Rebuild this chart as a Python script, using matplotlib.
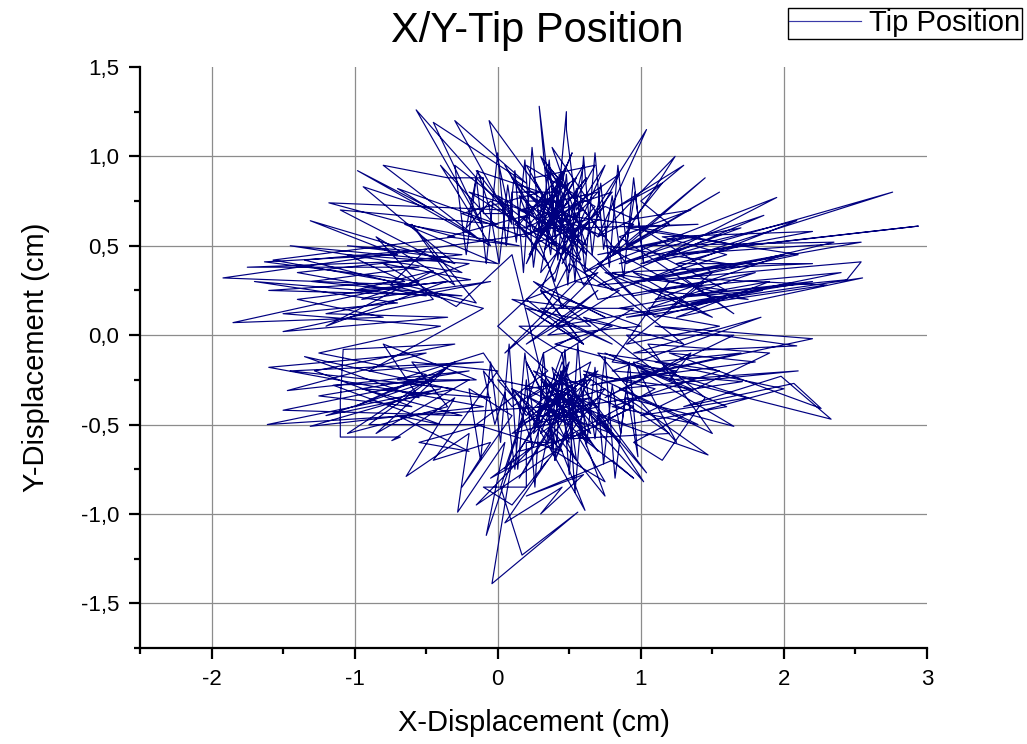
import matplotlib
matplotlib.use("Agg")
import matplotlib.pyplot as plt
from matplotlib.ticker import MultipleLocator, FuncFormatter

plt.rcParams['font.family'] = ['Liberation Sans', 'DejaVu Sans']

# tip track (cm), in several stretches
track_x = [
    0.35, 0.50, 0.22, 0.60, 0.40, 0.15, 0.55, 0.30, 0.65, 0.10,
    -1.92, -0.60, -1.57, -0.30, -1.18, 0.05, -0.57, -0.10, -0.45, 0.20,
    -0.30, 0.10, -0.06, 0.35, 0.29, 0.40, 0.48, 0.48, 0.55, 0.75,
    0.45, 1.04, 0.70, 1.24, 0.80, 1.45, 0.90, 1.55, 0.60, 1.95,
    1.10, 2.76, 1.50, 2.94, 1.20, 2.54, 1.00, 2.09, 0.85, 1.86,
    0.70, 2.54, 2.44, 1.30, 2.20, 1.05, 1.80, 0.95, 0.40, 0.62,
    0.25, 0.52, 0.35, 0.58, 0.18, 0.42, 0.30, 0.68, 0.20, 0.45,
    0.45, 0.20, 0.20, 0.00, -0.40, -0.05, -0.98, -0.45, -0.94, -0.30,
    -1.31, -0.70, -1.63, -0.55, -1.85, -0.80, -1.40, -0.36, -1.20, -0.45,
    -1.00, -0.19, -0.80, -0.29, 0.10, 0.30, 0.55, 0.20, 0.65, 0.35,
    0.50, 0.25, 0.70, 0.40, 0.15, 0.60, 0.45, 0.30, 0.75, 0.35,
    -1.61, -0.40, -1.31, -0.10, -1.60, -0.50, -1.47, -0.20, -1.25, -0.60,
    -1.28, -0.30, -1.08, -1.10, -1.10, -0.68, -0.74, -0.30, -0.64, -0.20,
    -0.28, 0.05, -0.08, 0.10, -0.04, 0.56, 0.17, 0.02, 0.20, 0.61,
    0.40, 0.75, 0.50, 1.02, 0.60, 1.04, 0.70, 1.47, 0.90, 1.65,
    1.00, 2.33, 1.98, 1.30, 2.07, 2.26, 1.20, 1.80, 0.85, 2.20,
    1.10, 2.09, 0.95, 1.84, 0.80, 1.71, 0.55, 0.30, 0.65, 0.40,
    0.20, 0.55, 0.45, 0.25, 0.70, 0.35, 0.60, 0.10, 0.50, 0.38,
    0.80, 0.28, 0.65, 0.15, 0.52, 0.52, 0.30, 0.30, 0.00, 0.45,
    -0.15, 0.35, 0.00, 0.40, 0.60, 0.25, 0.48, 0.33, 0.70, 0.15,
    0.55, 0.38, 0.62, 0.10, 0.45, 0.85, 0.50, 0.28, 0.75, 0.35,
    0.58, 1.40, 0.90, 2.10, 1.20, 2.35, 1.00, 1.60, 0.75, 1.50,
    0.95, 1.75, 1.05, 2.40, 1.35, 2.55, 1.25, 1.90, 0.85, 1.55,
    0.90, 1.45, 0.70, 0.40, 0.20, 0.52, 0.30, 0.05, 0.40, -0.20,
    0.25, -0.35, 0.15, -0.65, 0.00, -1.05, -0.25, -1.40, -0.50, -1.70,
    -0.70, -1.50, -0.40, -1.25, -0.50, -1.00, -0.35, -0.85, -0.20, -0.70,
    -0.10, 0.20, 0.45, 0.30, 0.58, 0.40, 0.65, 0.22, 0.50, 0.35,
    0.70, 0.45, 0.15, 0.55, 0.25, 0.60, 0.10, 0.48, 0.85, 0.40,
    0.95, 0.50, 1.20, 0.60, 1.35, 0.75, 1.60, 0.90, 0.42, 0.05,
    0.32, 0.55, 0.30, 0.50, 0.20, 0.62, 0.38, 0.72, 0.28, 0.55,
    0.12, 0.45, 0.80, 0.35, 0.95, 0.60, 0.25, 0.68, 0.42, 0.00,
    0.35, -0.15, 0.30, -0.25, 0.18, 0.60, 0.90, 1.30, 0.70, 1.70,
    1.00, 2.20, 1.15, 1.60, 0.80, 0.50, 0.30, 0.60, 0.20, 0.80,
    0.40, 1.10, 0.60, 1.30,
]
track_y = [
    0.60, 0.85, 0.45, 0.95, 0.30, 0.78, 0.50, 1.00, 0.65, 0.55,
    0.32, 0.28, 0.42, 0.55, 0.74, 0.70, 1.26, 0.60, 1.19, 0.85,
    1.20, 0.62, 1.20, 0.75, 1.28, 0.55, 1.25, 1.15, 0.70, 0.95,
    0.40, 1.15, 0.55, 1.00, 0.45, 0.88, 0.50, 0.80, 0.35, 0.77,
    0.42, 0.80, 0.48, 0.61, 0.45, 0.52, 0.30, 0.64, 0.40, 0.67,
    0.28, 0.41, 0.31, 0.22, 0.30, 0.15, 0.35, 0.22, 0.65, 0.88,
    0.50, 0.78, 0.92, 0.42, 0.65, 0.88, 0.35, 0.72, 0.95, 0.60,
    0.75, 0.75, 0.60, 0.60, 0.95, 0.50, 0.92, 0.70, 0.83, 0.40,
    0.64, 0.45, 0.41, 0.30, 0.07, 0.10, 0.20, 0.30, 0.05, 0.36,
    0.25, 0.31, 0.40, 0.16, 0.45, -0.20, -0.45, -0.30, -0.25, -0.60,
    -0.15, -0.50, -0.40, -0.30, -0.65, -0.55, -0.20, -0.75, -0.30, -0.40,
    -0.50, -0.30, -0.51, -0.40, -0.18, -0.10, -0.31, -0.20, -0.34, -0.40,
    -0.20, -0.05, -0.08, -0.37, -0.57, -0.57, -0.59, -0.35, -0.79, -0.55,
    -0.99, -0.60, -1.12, -0.70, -1.39, -0.99, -1.23, -0.85, -0.40, -0.98,
    -0.55, -0.90, -0.35, -0.82, -0.30, -0.77, -0.45, -0.67, -0.35, -0.51,
    -0.20, -0.47, -0.23, -0.40, -0.27, -0.41, -0.10, -0.15, -0.25, -0.02,
    0.05, -0.06, -0.10, 0.10, -0.20, -0.26, -0.40, -0.25, -0.60, -0.45,
    -0.15, -0.70, -0.10, -0.55, -0.20, -0.35, -0.50, -0.30, -0.60, -0.18,
    -0.55, -0.40, -0.35, -0.50, -0.28, -0.45, -0.45, -0.30, -0.25, -0.65,
    -0.50, -0.20, 0.05, 0.35, 0.75, 0.58, 0.95, 0.48, 0.80, 0.70,
    0.55, 0.82, 0.45, 0.88, 0.68, 0.90, 0.35, 0.70, 0.55, 0.95,
    0.60, 0.62, 0.60, 0.45, 0.30, 0.52, 0.50, 0.25, 0.35, 0.10,
    0.35, 0.20, 0.25, 0.35, 0.18, 0.32, 0.10, 0.30, 0.15, 0.05,
    -0.05, 0.30, 0.20, 0.70, 0.40, 1.02, 0.60, 0.95, 0.50, 0.80,
    0.68, 0.55, 0.50, 0.62, 0.40, 0.50, 0.45, 0.35, 0.22, 0.30,
    0.18, 0.12, 0.05, -0.10, -0.22, -0.40, -0.18, -0.55, -0.25, -0.25,
    -0.10, -0.45, -0.25, -0.55, -0.38, -0.70, -0.15, -0.35, -0.50, -0.25,
    -0.65, -0.40, -0.80, -0.30, -0.20, -0.45, -0.55, -0.32, -0.60, -0.22,
    -0.40, -0.58, -0.55, -0.22, -0.30, -0.10, -0.40, -0.50, -0.35, -0.75,
    -0.10, 0.00, 0.25, 0.62, 0.80, 0.50, 1.05, 0.65, 0.52, 0.88,
    0.62, 0.45, 0.80, 0.68, 0.62, 0.28, 0.88, 0.95, 0.58, 0.78,
    0.40, 0.92, 0.80, 0.68, 0.55, 0.70, 0.40, 0.55, 0.45, 0.60,
    0.40, 0.58, 0.55, 0.45, 0.25, 0.40, 0.10, -0.05, 0.15, 0.05,
    -0.05, -0.20, 0.10, -0.05,
]

# zigzag sweep through the upper cloud
upper_x = [
    -0.30, -0.22, -0.15, -0.08, 0.00, 0.06, 0.12, 0.18, 0.24, 0.30,
    0.36, 0.42, 0.48, 0.54, 0.60, 0.66, 0.72, 0.78, 0.84, 0.90,
    0.96, 1.02, 0.95, 0.88, 0.80, 0.74, 0.68, 0.61, 0.55, 0.49,
    0.43, 0.37, 0.31, 0.25, 0.19, 0.13, 0.07, 0.01, -0.06, -0.14,
    -0.22, -0.05, 0.15, 0.35, 0.55, 0.75, 0.95, 0.70, 0.45, 0.20,
    0.42, 0.10, 0.10, -0.10, -0.10, -0.35,
]
upper_y = [
    0.95, 0.45, 0.88, 0.40, 1.02, 0.50, 0.92, 0.35, 1.05, 0.55,
    0.98, 0.42, 0.90, 0.30, 1.00, 0.45, 0.85, 0.38, 0.95, 0.50,
    0.80, 0.40, 0.88, 0.32, 0.78, 0.48, 1.02, 0.36, 0.82, 0.28,
    0.90, 0.45, 0.75, 0.38, 0.98, 0.52, 0.84, 0.40, 0.72, 0.92,
    0.60, 0.75, 0.62, 0.80, 0.58, 0.72, 0.65, 0.55, 0.70, 0.60,
    0.80, 0.80, 0.68, 0.68, 0.88, 0.88,
]

# left fan, above and below the x axis
left_x = [
    -0.80, -0.15, -0.70, 0.00, -1.10, -0.25, -1.45, -0.40, -1.75, -0.55,
    -1.30, -0.25, -1.60, -0.65, -1.05, -0.20, -0.95, -0.05, -1.20, -0.35,
    -1.50, -0.45, -0.85, -0.30, -0.60, -0.15, -1.35, -0.50, -0.75, -0.10,
    -0.90, -0.10, -1.45, -0.30, -1.20, -0.45, -1.50, -0.25, -0.95, -0.05,
    -1.35, -0.55, -0.80, -0.15, -1.15, -0.40, -0.70, -0.20, -0.55, -0.10,
    -0.90, -0.30, -1.05, -0.35, -0.60, 0.00, -0.45, -0.05, -0.25, 0.10,
]
left_y = [
    0.95, 0.55, 0.82, 0.62, 0.70, 0.35, 0.50, 0.42, 0.38, 0.38,
    0.30, 0.22, 0.25, 0.30, 0.45, 0.40, 0.20, 0.30, 0.12, 0.10,
    0.02, 0.20, 0.55, 0.28, 0.62, 0.18, 0.42, 0.48, 0.28, 0.15,
    -0.20, -0.15, -0.20, -0.30, -0.45, -0.25, -0.42, -0.45, -0.30, -0.35,
    -0.12, -0.35, -0.05, -0.25, -0.28, -0.50, -0.45, -0.65, -0.60, -0.50,
    -0.50, -0.15, -0.55, -0.40, -0.15, -0.20, -0.70, -0.60, -0.85, -0.45,
]

# zigzag sweep through the lower cloud, then its bottom edge
lower_x = [
    -0.20, -0.12, -0.05, 0.02, 0.08, 0.14, 0.20, 0.26, 0.32, 0.38,
    0.44, 0.50, 0.56, 0.62, 0.68, 0.74, 0.80, 0.86, 0.92, 0.98,
    0.90, 0.82, 0.75, 0.68, 0.61, 0.54, 0.47, 0.40, 0.33, 0.26,
    0.19, 0.12, 0.05, -0.02, -0.10, 0.10, 0.30, 0.50, 0.70, 0.90,
    0.70, 0.50, 0.30, 0.10, 0.25, 0.45, 0.65, 0.40, 0.60, 0.35,
    0.40, 0.20, 0.20, -0.10,
    0.10, 0.35, 0.05, 0.45, 0.30, 0.60, 0.20, 0.80, 0.95, 0.55,
    0.75, 0.40, -0.15, 0.25, -0.05,
]
lower_y = [
    -0.30, -0.70, -0.15, -0.60, -0.05, -0.75, -0.25, -0.85, -0.10, -0.65,
    -0.20, -0.78, -0.05, -0.62, -0.18, -0.72, -0.28, -0.55, -0.15, -0.68,
    -0.30, -0.80, -0.12, -0.58, -0.22, -0.88, -0.08, -0.70, -0.25, -0.52,
    -0.10, -0.75, -0.32, -0.50, -0.20, -0.40, -0.30, -0.45, -0.35, -0.42,
    -0.50, -0.28, -0.48, -0.30, -0.62, -0.15, -0.55, -0.38, -0.25, -0.42,
    -0.60, -0.60, -0.85, -0.85,
    -0.95, -0.70, -1.05, -0.85, -1.00, -0.78, -0.90, -0.70, -0.80, -0.55,
    -0.82, -0.65, -0.95, -0.62, -0.80,
]

# right fan, below then above the x axis, then the gap between the clouds
right_x = [
    1.10, 0.60, 1.40, 0.80, 1.55, 0.70, 1.25, 0.95, 1.75, 1.00,
    1.90, 1.05, 1.50, 0.85, 2.10, 1.20, 1.35, 0.75, 1.65, 0.90,
    1.45, 1.15, 0.95, 1.30, 2.00, 1.10, 1.70, 0.65, 1.25, 0.80,
    1.20, 0.75, 1.60, 0.95, 2.00, 1.10, 1.85, 0.90, 1.40, 0.80,
    2.20, 1.25, 1.70, 1.00, 1.50, 1.20, 2.30, 1.30, 1.65, 0.85,
    1.35, 0.95, 1.15, 0.80, 1.30, 1.00, 1.20, 0.70, 1.10, 1.55,
    0.40, 0.70, 0.20, 0.60, 0.10, 0.80, 0.30, 0.95, 0.45, 0.15,
    0.65, 0.25, 0.75, 0.50, 0.05, 0.55, 0.85, 0.35, 1.00, 0.30,
    0.60, 0.20, 0.70, 0.45, 0.35,
]
right_y = [
    -0.30, -0.20, -0.50, -0.40, -0.20, -0.10, -0.60, -0.15, -0.35, -0.45,
    -0.10, -0.05, -0.55, -0.30, -0.20, -0.25, -0.10, -0.35, 0.00, 0.00,
    -0.35, -0.70, -0.60, -0.45, -0.30, -0.15, -0.10, -0.28, -0.20, -0.15,
    0.30, 0.50, 0.40, 0.30, 0.45, 0.20, 0.25, 0.10, 0.15, 0.35,
    0.40, 0.40, 0.50, 0.60, 0.35, 0.15, 0.28, 0.32, 0.12, 0.55,
    0.70, 0.65, 0.85, 0.70, 0.95, 0.75, 0.62, 0.40, 0.10, 0.20,
    0.05, 0.25, -0.05, 0.15, 0.20, -0.05, 0.15, 0.15, -0.10, 0.05,
    0.05, 0.30, 0.10, 0.20, -0.10, 0.30, 0.25, 0.00, 0.05, 0.25,
    -0.05, 0.20, 0.35, 0.15, 0.40,
]

tip_x = track_x + upper_x + left_x + lower_x + right_x
tip_y = track_y + upper_y + left_y + lower_y + right_y

fig = plt.figure(figsize=(10.27, 7.44), dpi=100)
ax = fig.add_axes([0.1363, 0.129, 0.7663, 0.781])

ax.plot(tip_x, tip_y, color='#000080', lw=0.85, label='Tip Position')

ax.set_xlim(-2.5, 3)
ax.set_ylim(-1.75, 1.5)
ax.xaxis.set_major_locator(MultipleLocator(1))
ax.xaxis.set_minor_locator(MultipleLocator(0.5))
ax.yaxis.set_major_locator(MultipleLocator(0.5))
ax.yaxis.set_minor_locator(MultipleLocator(0.25))
ax.yaxis.set_major_formatter(FuncFormatter(lambda v, p: f"{v:.1f}".replace('.', ',')))
ax.xaxis.set_major_formatter(FuncFormatter(lambda v, p: f"{v:g}"))

ax.grid(True, which='major', color='#8c8c8c', lw=0.9)
ax.set_axisbelow(True)
for gl, t in zip(ax.xaxis.get_gridlines(), ax.get_xticks()):
    if t >= 3 or t <= -2.5:
        gl.set_visible(False)
for gl, t in zip(ax.yaxis.get_gridlines(), ax.get_yticks()):
    if t >= 1.5 or t <= -1.75:
        gl.set_visible(False)

for s in ['top', 'right']:
    ax.spines[s].set_visible(False)
for s in ['left', 'bottom']:
    ax.spines[s].set_linewidth(1.6)
ax.tick_params(which='major', direction='out', length=8, width=1.6, labelsize=16, pad=7)
ax.tick_params(which='minor', direction='out', length=4, width=1.6)

ax.set_xlabel('X-Displacement (cm)', fontsize=21, labelpad=14)
ax.set_ylabel('Y-Displacement (cm)', fontsize=21, labelpad=22)
fig.text(0.523, 0.958, 'X/Y-Tip Position', fontsize=30, ha='center', va='center')

leg = fig.legend(loc='upper right', bbox_to_anchor=(1022 / 1027, 1 - 8 / 744),
                 fontsize=21, fancybox=False, framealpha=1, edgecolor='black',
                 borderaxespad=0, handlelength=2.45, handletextpad=0.3,
                 borderpad=0.05)
leg.get_frame().set_linewidth(1.0)
leg.get_lines()[0].set_color('#3a3aa8')

fig.savefig('out.png', dpi=100)
